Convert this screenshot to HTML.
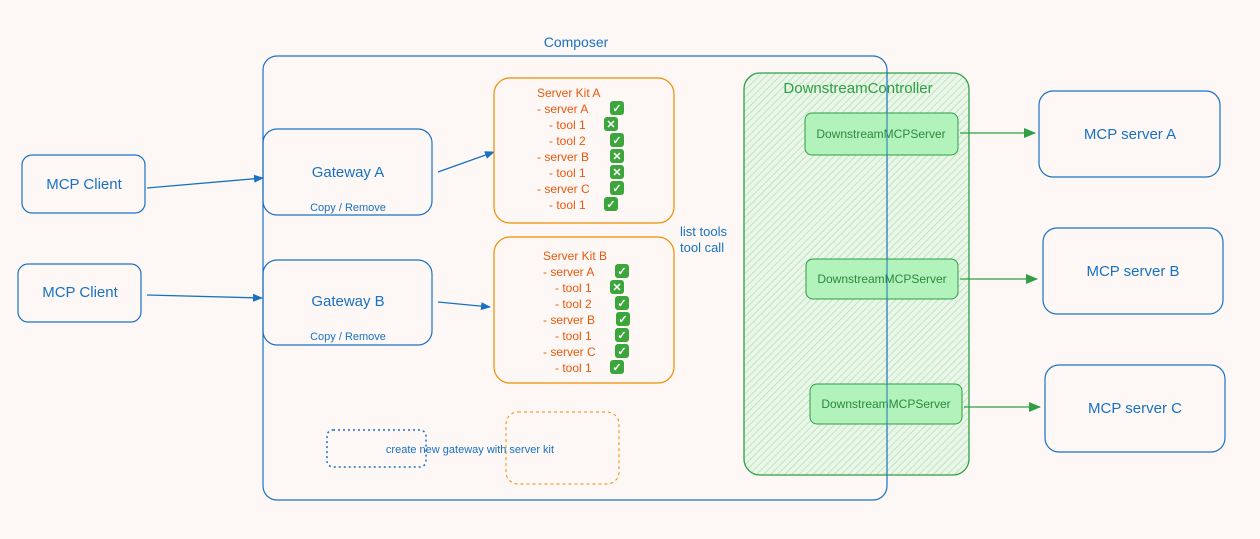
<!DOCTYPE html>
<html><head><meta charset="utf-8"><style>
html,body{margin:0;padding:0;background:#fdf8f6;}
svg{display:block}
text{font-family:"Liberation Sans",sans-serif;}
</style></head><body>
<svg width="1260" height="539" viewBox="0 0 1260 539" xmlns="http://www.w3.org/2000/svg">
<defs>
<pattern id="h" width="5" height="5" patternUnits="userSpaceOnUse" patternTransform="rotate(45)">
<rect width="5" height="5" fill="#eaf6e8"/><line x1="0" y1="0" x2="0" y2="5" stroke="#a8dcae" stroke-width="1.3"/>
</pattern>
<marker id="ab" markerWidth="10" markerHeight="10" refX="9" refY="5" orient="auto" markerUnits="userSpaceOnUse"><path d="M0,1 L10,5 L0,9 z" fill="#1971c2"/></marker>
<marker id="ag" markerWidth="12" markerHeight="12" refX="11" refY="6" orient="auto" markerUnits="userSpaceOnUse"><path d="M0,1 L12,6 L0,11 z" fill="#2f9e44"/></marker>
</defs>
<rect width="1260" height="539" fill="#fdf8f6"/>

<rect x="744" y="73" width="225" height="402" rx="16" fill="url(#h)" stroke="#2f9e44" stroke-width="1.3"/>
<text x="858" y="93" font-size="15" fill="#2f9e44" text-anchor="middle">DownstreamController</text>

<text x="576" y="47" font-size="14" fill="#1971c2" text-anchor="middle">Composer</text>
<rect x="263" y="56" width="624" height="444" rx="14" fill="none" stroke="#1971c2" stroke-width="1.2"/>

<g font-size="12" fill="#2b8a3e" text-anchor="middle">
<rect x="805" y="113" width="153" height="42" rx="7" fill="#b2f2bb" stroke="#2f9e44"/>
<text x="881" y="138">DownstreamMCPServer</text>
<rect x="806" y="259" width="152" height="40" rx="7" fill="#b2f2bb" stroke="#2f9e44"/>
<text x="882" y="283">DownstreamMCPServer</text>
<rect x="810" y="384" width="152" height="40" rx="7" fill="#b2f2bb" stroke="#2f9e44"/>
<text x="886" y="408">DownstreamMCPServer</text>
</g>
<line x1="887" y1="113" x2="887" y2="155" stroke="#1971c2"/>
<line x1="887" y1="259" x2="887" y2="299" stroke="#1971c2"/>
<line x1="887" y1="384" x2="887" y2="424" stroke="#1971c2"/>

<g stroke="#2f9e44" stroke-width="1.3">
<line x1="960" y1="133" x2="1035" y2="133" marker-end="url(#ag)"/>
<line x1="960" y1="279" x2="1037" y2="279" marker-end="url(#ag)"/>
<line x1="964" y1="407" x2="1040" y2="407" marker-end="url(#ag)"/>
</g>

<g fill="none" stroke="#1971c2" stroke-width="1.2">
<rect x="1039" y="91" width="181" height="86" rx="14"/>
<rect x="1043" y="228" width="180" height="86" rx="14"/>
<rect x="1045" y="365" width="180" height="87" rx="14"/>
<rect x="22" y="155" width="123" height="58" rx="10"/>
<rect x="18" y="264" width="123" height="58" rx="10"/>
<rect x="263" y="129" width="169" height="86" rx="14"/>
<rect x="263" y="260" width="169" height="85" rx="14"/>
<rect x="327" y="430" width="99" height="37" rx="6" stroke-dasharray="2 3" stroke-width="1.5"/>
</g>
<rect x="506" y="412" width="113" height="72" rx="12" fill="none" stroke="#f08c00" stroke-dasharray="3 3"/>

<g fill="#1971c2" font-size="15" text-anchor="middle">
<text x="1130" y="139">MCP server A</text>
<text x="1133" y="276">MCP server B</text>
<text x="1135" y="413">MCP server C</text>
<text x="84" y="189">MCP Client</text>
<text x="80" y="297">MCP Client</text>
<text x="348" y="177">Gateway A</text>
<text x="348" y="306">Gateway B</text>
<text x="348" y="211" font-size="11">Copy / Remove</text>
<text x="348" y="340" font-size="11">Copy / Remove</text>
<text x="470" y="453" font-size="11">create new gateway with server kit</text>
<text x="680" y="236" font-size="13" text-anchor="start">list tools</text>
<text x="680" y="252" font-size="13" text-anchor="start">tool call</text>
</g>

<g stroke="#1971c2" stroke-width="1.3">
<line x1="147" y1="188" x2="263" y2="178" marker-end="url(#ab)"/>
<line x1="147" y1="295" x2="262" y2="298" marker-end="url(#ab)"/>
<line x1="438" y1="172" x2="494" y2="152" marker-end="url(#ab)"/>
<line x1="438" y1="302" x2="490" y2="307" marker-end="url(#ab)"/>
</g>

<rect x="494" y="78" width="180" height="145" rx="16" fill="none" stroke="#f08c00" stroke-width="1.2"/>
<rect x="494" y="237" width="180" height="146" rx="16" fill="none" stroke="#f08c00" stroke-width="1.2"/>

<g font-size="12" fill="#e8590c">
<text x="537" y="97">Server Kit A</text>
<text x="537" y="113">- server A</text>
<text x="549" y="129">- tool 1</text>
<text x="549" y="145">- tool 2</text>
<text x="537" y="161">- server B</text>
<text x="549" y="177">- tool 1</text>
<text x="537" y="193">- server C</text>
<text x="549" y="209">- tool 1</text>
<text x="543" y="260">Server Kit B</text>
<text x="543" y="276">- server A</text>
<text x="555" y="292">- tool 1</text>
<text x="555" y="308">- tool 2</text>
<text x="543" y="324">- server B</text>
<text x="555" y="340">- tool 1</text>
<text x="543" y="356">- server C</text>
<text x="555" y="372">- tool 1</text>
</g>

<g font-size="11" font-weight="bold" fill="#fff" text-anchor="middle">
<rect x="610" y="101" width="14" height="14" rx="3" fill="#3ca63c"/><text x="617" y="112">✓</text>
<rect x="604" y="117" width="14" height="14" rx="3" fill="#3ca63c"/><text x="611" y="128">✕</text>
<rect x="610" y="133" width="14" height="14" rx="3" fill="#3ca63c"/><text x="617" y="144">✓</text>
<rect x="610" y="149" width="14" height="14" rx="3" fill="#3ca63c"/><text x="617" y="160">✕</text>
<rect x="610" y="165" width="14" height="14" rx="3" fill="#3ca63c"/><text x="617" y="176">✕</text>
<rect x="610" y="181" width="14" height="14" rx="3" fill="#3ca63c"/><text x="617" y="192">✓</text>
<rect x="604" y="197" width="14" height="14" rx="3" fill="#3ca63c"/><text x="611" y="208">✓</text>
<rect x="615" y="264" width="14" height="14" rx="3" fill="#3ca63c"/><text x="622" y="275">✓</text>
<rect x="610" y="280" width="14" height="14" rx="3" fill="#3ca63c"/><text x="617" y="291">✕</text>
<rect x="615" y="296" width="14" height="14" rx="3" fill="#3ca63c"/><text x="622" y="307">✓</text>
<rect x="616" y="312" width="14" height="14" rx="3" fill="#3ca63c"/><text x="623" y="323">✓</text>
<rect x="615" y="328" width="14" height="14" rx="3" fill="#3ca63c"/><text x="622" y="339">✓</text>
<rect x="615" y="344" width="14" height="14" rx="3" fill="#3ca63c"/><text x="622" y="355">✓</text>
<rect x="610" y="360" width="14" height="14" rx="3" fill="#3ca63c"/><text x="617" y="371">✓</text>
</g>
</svg>
</body></html>
